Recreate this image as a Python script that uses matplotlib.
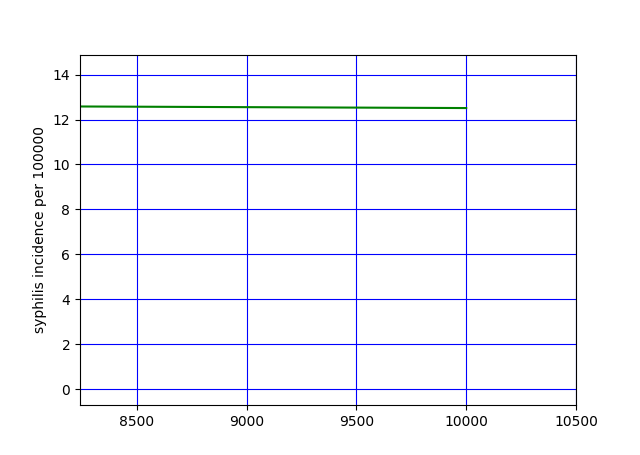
import matplotlib
matplotlib.use("Agg")
import matplotlib.pyplot as plt

# values
population = [8241, 8500, 9000, 9500, 10000]
incidence = [12.58, 12.57, 12.55, 12.53, 12.51]

fig = plt.figure(figsize=(6.4, 4.55), dpi=100)
ax = fig.add_subplot(111)
ax.plot(population, incidence, color='green')
ax.set_xlim(8241, 10500)
ax.set_ylim(-0.71, 14.89)
ax.set_xticks([8500, 9000, 9500, 10000, 10500])
ax.set_yticks(range(0, 15, 2))
ax.grid(True, color='blue')
ax.set_ylabel("syphilis incidence per 100000")
fig.savefig("out.png")
